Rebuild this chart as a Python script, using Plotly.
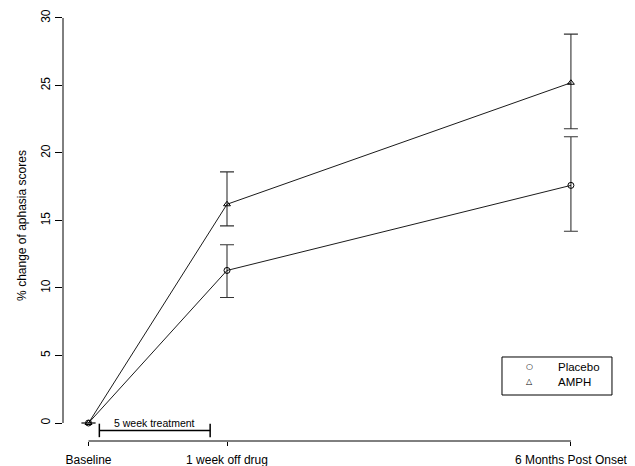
import plotly.graph_objects as go

# Data
tick_labels = ["Baseline", "1 week off drug", "6 Months Post Onset"]
x_pos = [0, 6, 20.9]  # weeks relative to baseline
placebo = [0, 11.3, 17.6]
placebo_up = [0, 1.9, 3.6]
placebo_dn = [0, 2.0, 3.4]
amph = [0, 16.2, 25.2]
amph_up = [0, 2.4, 3.6]
amph_dn = [0, 1.6, 3.4]
y_ticks = [0, 5, 10, 15, 20, 25, 30]
treatment = [0.47, 5.27]
treatment_label = "5 week treatment"
legend_names = ["Placebo", "AMPH"]
legend_glyphs = ["○", "△"]

FONT = "Liberation Sans, Arial, Helvetica, sans-serif"

fig = go.Figure()

def add_series(y, up, dn, symbol, name):
    mk = dict(symbol=symbol, size=6, color="black", line=dict(color="black", width=1))
    fig.add_trace(go.Scatter(
        x=x_pos, y=y, mode="lines+markers", name=name, showlegend=False,
        line=dict(color="black", width=0.9),
        marker=mk,
        error_y=dict(type="data", symmetric=False, array=up, arrayminus=dn,
                     color="#333333", thickness=1.1, width=7),
    ))

add_series(placebo, placebo_up, placebo_dn, "circle-open", legend_names[0])
add_series(amph, amph_up, amph_dn, "triangle-up-open", legend_names[1])

# axis lines (R style, spanning first to last tick)
fig.add_shape(type="line", xref="paper", yref="y", x0=0, x1=0,
              y0=y_ticks[0], y1=y_ticks[-1], line=dict(color="black", width=1))
fig.add_shape(type="line", xref="x", yref="paper", x0=x_pos[0], x1=x_pos[-1],
              y0=0, y1=0, line=dict(color="black", width=1))

# treatment bracket
by = -0.55
fig.add_shape(type="line", xref="x", yref="y", x0=treatment[0], x1=treatment[1],
              y0=by, y1=by, line=dict(color="black", width=1.5))
for tx in treatment:
    fig.add_shape(type="line", xref="x", yref="y", x0=tx, x1=tx,
                  y0=by - 0.5, y1=by + 0.5, line=dict(color="black", width=1.5))
fig.add_annotation(x=(treatment[0] + treatment[1]) / 2, y=by, xref="x", yref="y",
                   text=treatment_label, showarrow=False, yanchor="bottom",
                   borderpad=0,
                   font=dict(family=FONT, size=10.5, color="black"))

# legend box (R style, compact)
fig.add_shape(type="rect", xref="paper", yref="paper", x0=0.8175, x1=1.0223,
              y0=0.1067, y1=0.1949, line=dict(color="black", width=1),
              fillcolor="white", layer="below")
for i, (g, nm) in enumerate(zip(legend_glyphs, legend_names)):
    yy = 0.1717 - i * 0.0348
    fig.add_annotation(x=0.8696, y=yy, xref="paper", yref="paper", text=g,
                       showarrow=False, xanchor="center", yanchor="middle",
                       borderpad=0,
                       font=dict(family="DejaVu Sans", size=8, color="black"))
    fig.add_annotation(x=0.9199, y=yy, xref="paper", yref="paper", text=nm,
                       showarrow=False, xanchor="left", yanchor="middle",
                       borderpad=0,
                       font=dict(family=FONT, size=11.5, color="black"))

fig.update_layout(
    width=627, height=458,
    margin=dict(l=55, r=35, t=2, b=25),
    paper_bgcolor="white", plot_bgcolor="white",
    font=dict(family=FONT, size=12, color="black"),
    showlegend=False,
    xaxis=dict(range=[-1.105, 22.16], tickvals=x_pos, ticktext=tick_labels,
               showgrid=False, zeroline=False, showline=False, automargin=False,
               ticks="outside", ticklen=4, tickcolor="black", ticklabelstandoff=4,
               tickfont=dict(size=12)),
    yaxis=dict(range=[-1.333, 30.59], tickvals=y_ticks,
               showgrid=False, zeroline=False, showline=False, automargin=False,
               ticks="outside", ticklen=7, tickcolor="black", tickangle=-90,
               tickfont=dict(size=12),
               title=dict(text="% change of aphasia scores", font=dict(size=12), standoff=10)),
)

fig.write_html("out.html")
